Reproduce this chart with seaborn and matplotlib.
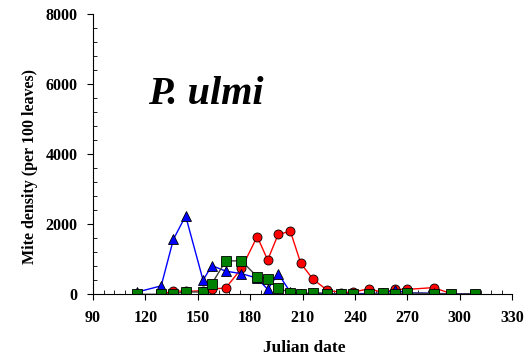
import matplotlib
matplotlib.use("Agg")
import matplotlib.pyplot as plt
import seaborn as sns
import pandas as pd
from matplotlib.ticker import MultipleLocator

# Julian dates of sampling
red_days = [129, 136, 143, 153, 158, 166, 175, 184, 190, 196, 203, 209, 216, 224,
            232, 239, 248, 256, 263, 270, 285, 295, 309]
red_density = [0, 95, 85, 100, 150, 180, 740, 1650, 980, 1710, 1800, 880, 430, 120,
               50, 60, 160, 50, 140, 140, 190, 20, 10]

blue_days = [115, 129, 136, 143, 153, 158, 166, 175, 184, 190, 196, 203, 209, 216,
             224, 232, 239, 248, 256, 263, 270, 285, 295, 309]
blue_density = [60, 240, 1570, 2240, 400, 820, 660, 590, 460, 140, 590, 60, 10, 30,
                20, 10, 20, 20, 30, 120, 40, 30, 10, 10]

green_days = [115, 129, 136, 143, 153, 158, 166, 175, 184, 190, 196, 203, 209, 216,
              224, 232, 239, 248, 256, 263, 270, 285, 295, 309]
green_density = [0, 0, 20, 65, 65, 300, 955, 955, 500, 450, 170, 50, 0, 50,
                 20, 0, 10, 0, 40, 20, 40, 20, 10, 10]

x_ticks = [90, 120, 150, 180, 210, 240, 270, 300, 330]
y_ticks = [0, 2000, 4000, 6000, 8000]


def main():
    sns.set_style("white", {"text.color": "black", "axes.labelcolor": "black",
                            "xtick.color": "black", "ytick.color": "black",
                            "axes.edgecolor": "black"})
    plt.rcParams['font.family'] = ['Liberation Serif', 'DejaVu Serif']

    fig = plt.figure(figsize=(5.29, 3.58), dpi=100)
    ax = fig.add_axes([0.176, 0.178, 0.792, 0.782])

    series = [
        (red_days, red_density, "o", "red", "red", 6.5),
        (blue_days, blue_density, "^", "blue", "blue", 7),
        (green_days, green_density, "s", "green", "#404040", 6.5),
    ]
    for days, dens, mk, fc, lc, ms in series:
        df = pd.DataFrame({"day": days, "density": dens})
        sns.lineplot(x="day", y="density", data=df, ax=ax, color=lc, linewidth=1,
                     marker=mk, markersize=ms, markerfacecolor=fc,
                     markeredgecolor="black", markeredgewidth=0.6)

    ax.set_xlim(90, 330)
    ax.set_ylim(0, 8000)
    ax.set_xticks(x_ticks)
    ax.set_yticks(y_ticks)
    ax.xaxis.set_minor_locator(MultipleLocator(6))
    ax.yaxis.set_minor_locator(MultipleLocator(400))
    ax.tick_params(which="major", direction="out", length=4, width=0.8, labelsize=11.5,
                   color="black", labelcolor="black", bottom=True, left=True, pad=7)
    ax.tick_params(which="minor", direction="in", length=3, width=0.6,
                   color="black", bottom=True, left=True)
    for lab in ax.get_xticklabels() + ax.get_yticklabels():
        lab.set_fontweight("bold")

    sns.despine(ax=ax)
    for sp in ["left", "bottom"]:
        ax.spines[sp].set_color("black")
        ax.spines[sp].set_linewidth(0.8)

    ax.set_xlabel("Julian date", fontsize=12.5, fontweight="bold", color="black")
    ax.xaxis.set_label_coords(0.504, -0.165)
    ax.set_ylabel("Mite density (per 100 leaves)", fontsize=11.5, fontweight="bold",
                  color="black")
    ax.yaxis.set_label_coords(-0.131, 0.455)

    ax.text(0.131, 0.68, "P. ulmi", transform=ax.transAxes, fontsize=29,
            fontweight="bold", fontstyle="italic", color="black")

    fig.savefig("out.png", dpi=100)


if __name__ == '__main__':
    main()
